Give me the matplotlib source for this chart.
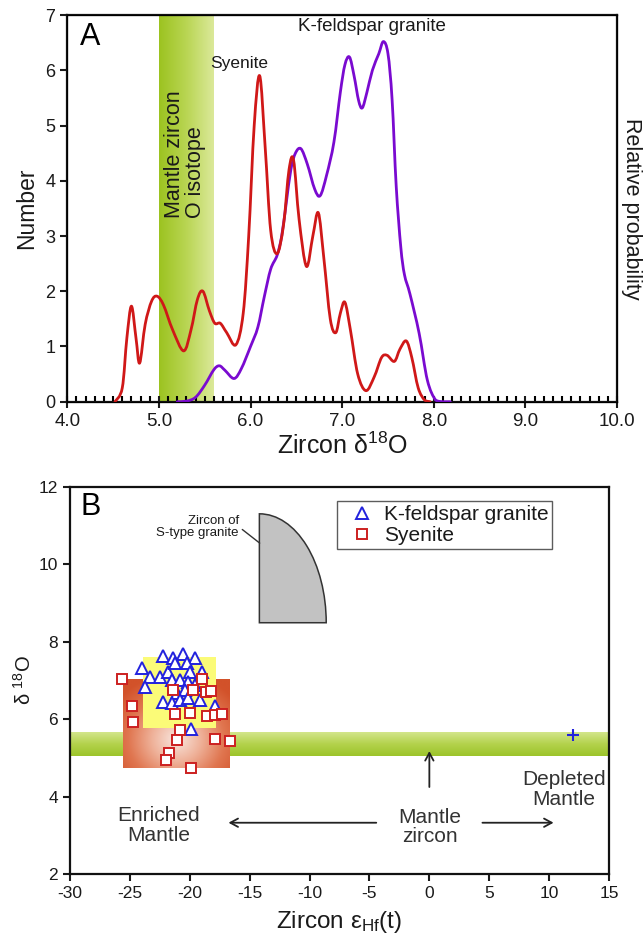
import numpy as np
import matplotlib
matplotlib.use("Agg")
import matplotlib.pyplot as plt
from matplotlib.path import Path
from matplotlib.patches import PathPatch
from matplotlib.transforms import Affine2D
from matplotlib.ticker import MultipleLocator

plt.rcParams["font.family"] = ["Liberation Sans", "DejaVu Sans"]
plt.rcParams["mathtext.fontset"] = "custom"
plt.rcParams["mathtext.rm"] = "Liberation Sans"
plt.rcParams["mathtext.it"] = "Liberation Sans:italic"
plt.rcParams["mathtext.bf"] = "Liberation Sans:bold"
plt.rcParams["axes.unicode_minus"] = False

TXT = "#1a1a1a"

# ---------------- Panel A: relative probability of zircon d18O ----------------
syenite_x = [4.52, 4.60, 4.65, 4.70, 4.75, 4.79, 4.85, 4.92, 4.98, 5.05, 5.15,
             5.27, 5.35, 5.42, 5.48, 5.55, 5.61, 5.67, 5.74, 5.84, 5.92, 5.98,
             6.04, 6.10, 6.16, 6.22, 6.29, 6.36, 6.42, 6.47, 6.53, 6.61, 6.68,
             6.74, 6.80, 6.87, 6.93, 6.98, 7.03, 7.09, 7.17, 7.26, 7.35, 7.43,
             7.49, 7.57, 7.63, 7.70, 7.76, 7.83, 7.90, 7.96]
syenite_y = [0.00, 0.25, 1.15, 1.73, 1.15, 0.70, 1.40, 1.82, 1.91, 1.75, 1.30,
             0.92, 1.30, 1.85, 2.00, 1.65, 1.42, 1.42, 1.25, 1.03, 1.60, 3.00,
             5.00, 5.90, 4.60, 3.10, 2.68, 3.20, 4.20, 4.37, 3.30, 2.45, 3.00,
             3.42, 2.60, 1.50, 1.25, 1.60, 1.80, 1.30, 0.50, 0.20, 0.45, 0.80,
             0.84, 0.73, 0.95, 1.10, 0.80, 0.25, 0.03, 0.00]

kfs_x = [5.20, 5.30, 5.40, 5.50, 5.60, 5.66, 5.72, 5.82, 5.90, 6.00, 6.08,
         6.15, 6.22, 6.29, 6.34, 6.39, 6.44, 6.49, 6.55, 6.62, 6.70, 6.76,
         6.83, 6.91, 6.98, 7.03, 7.08, 7.13, 7.18, 7.22, 7.27, 7.33, 7.40,
         7.45, 7.50, 7.545, 7.59, 7.64, 7.68, 7.74, 7.84, 7.93, 8.02, 8.10, 8.18]
kfs_y = [0.00, 0.01, 0.08, 0.30, 0.58, 0.65, 0.57, 0.42, 0.60, 1.00, 1.35,
         1.90, 2.40, 2.65, 3.00, 3.60, 4.20, 4.50, 4.58, 4.30, 3.85, 3.73,
         4.10, 4.70, 5.60, 6.10, 6.24, 5.90, 5.45, 5.32, 5.60, 6.00, 6.30,
         6.52, 6.30, 5.47, 3.90, 2.80, 2.30, 1.95, 1.24, 0.39, 0.03, 0.00, 0.00]

mantle_o_band = (5.0, 5.6)

# ---------------- Panel B: d18O vs eHf(t) ----------------
kfs_ehf = [-22.21, -21.37, -20.53, -19.56, -23.96, -23.32, -23.73, -22.48,
           -21.79, -21.23, -20.25, -19.97, -19.00, -21.50, -20.81, -20.12,
           -19.56, -21.09, -20.39, -22.21, -21.50, -20.81, -20.12, -17.89,
           -19.14, -19.93]
kfs_d18o = [7.62, 7.57, 7.68, 7.57, 7.32, 7.10, 6.84, 7.10,
            7.23, 7.44, 7.44, 7.23, 7.23, 7.01, 7.01, 6.97,
            6.88, 6.67, 6.76, 6.45, 6.41, 6.50, 6.54, 6.33,
            6.50, 5.74]

syenite_ehf = [-25.68, -24.85, -24.70, -21.37, -19.70, -18.97, -18.68, -18.26,
               -21.23, -19.97, -18.58, -17.89, -17.28, -20.79, -21.09, -17.89,
               -16.66, -21.70, -22.02, -19.89]
syenite_d18o = [7.05, 6.33, 5.93, 6.76, 6.76, 7.03, 6.69, 6.74,
                6.14, 6.16, 6.09, 6.11, 6.14, 5.72, 5.46, 5.50,
                5.44, 5.14, 4.95, 4.73]

depleted_mantle = (12.0, 5.6)
mantle_zircon_band = (5.05, 5.65)
syenite_field = (-25.6, -16.7, 4.74, 7.03)      # x0, x1, y0, y1
kfs_field = (-23.93, -17.83, 5.77, 7.60)
stype_field = (-14.19, -8.61, 8.49, 11.30)


def smooth_path(xs, ys):
    """Smooth Bezier path passing through every (x, y) pair."""
    pts = np.column_stack([xs, ys]).astype(float)
    verts = [pts[0]]
    codes = [Path.MOVETO]
    n = len(pts)
    for i in range(n - 1):
        p0 = pts[i - 1] if i > 0 else pts[i]
        p1 = pts[i]
        p2 = pts[i + 1]
        p3 = pts[i + 2] if i + 2 < n else pts[i + 1]
        c1 = p1 + (p2 - p0) / 6.0
        c2 = p2 - (p3 - p1) / 6.0
        c1[1] = max(c1[1], 0.0)
        c2[1] = max(c2[1], 0.0)
        verts += [c1, c2, p2]
        codes += [Path.CURVE4] * 3
    return Path(verts, codes)


fig = plt.figure(figsize=(6.44, 9.41), dpi=100)

# ---- Panel A ----
axA = fig.add_axes([0.1045, 0.5731, 0.8536, 0.4109])
xlimA, ylimA = (4.0, 10.0), (0.0, 7.0)

band = np.linspace(0, 1, 256).reshape(1, -1)
greens = matplotlib.colors.LinearSegmentedColormap.from_list(
    "band_h", ["#9cc320", "#b9d553", "#dbe99a"])
axA.imshow(band, cmap=greens, aspect="auto", interpolation="bicubic",
           extent=(mantle_o_band[0], mantle_o_band[1], ylimA[0], ylimA[1]),
           zorder=1)
axA.text(5.28, 3.33, "Mantle zircon\nO isotope", rotation=90,
         rotation_mode="anchor", ha="left", va="center",
         multialignment="left", fontsize=15.5, color=TXT, linespacing=1.0,
         zorder=2)

axA.add_patch(PathPatch(smooth_path(syenite_x, syenite_y), fill=False,
                        edgecolor="#d01818", lw=2.0, zorder=4,
                        capstyle="round", joinstyle="round"))
axA.add_patch(PathPatch(smooth_path(kfs_x, kfs_y), fill=False,
                        edgecolor="#7a0ad0", lw=2.0, zorder=3,
                        capstyle="round", joinstyle="round"))

axA.text(5.88, 6.12, "Syenite", ha="center", va="center", fontsize=12.5,
         color=TXT)
axA.text(7.32, 6.8, "K-feldspar granite", ha="center", va="center",
         fontsize=13.5, color=TXT)
axA.text(0.042, 0.942, "A", transform=axA.transAxes, ha="center",
         va="center", fontsize=22, color="black")

axA.set_xlim(*xlimA)
axA.set_ylim(*ylimA)
axA.xaxis.set_major_locator(MultipleLocator(1.0))
axA.xaxis.set_minor_locator(MultipleLocator(0.1))
axA.yaxis.set_major_locator(MultipleLocator(1.0))
axA.set_xticklabels([f"{v:.1f}" for v in axA.get_xticks()])
axA.tick_params(axis="x", which="major", direction="inout", length=8,
                width=1.5, labelsize=13.5, colors=TXT, pad=4)
axA.tick_params(axis="x", which="minor", direction="in", length=4, width=1.5)
axA.tick_params(axis="y", which="major", direction="out", length=5,
                width=1.5, labelsize=13, colors=TXT)
for s in axA.spines.values():
    s.set_linewidth(1.6)
    s.set_color("#111111")
axA.set_xlabel("Zircon δ$^{18}$O", fontsize=18, color=TXT, labelpad=2)
axA.set_ylabel("Number", fontsize=16.5, color=TXT, labelpad=5)
axA2 = axA.twinx()
axA2.set_yticks([])
axA2.set_ylabel("Relative probability", rotation=270, fontsize=15.5,
                color=TXT, labelpad=18)

# ---- Panel B ----
axB = fig.add_axes([0.1087, 0.0709, 0.8370, 0.4119])
xlimB, ylimB = (-30.0, 15.0), (2.0, 12.0)

vband = np.linspace(1, 0, 256).reshape(-1, 1)
greens_v = matplotlib.colors.LinearSegmentedColormap.from_list(
    "band_v", ["#9cc42a", "#b3d24c", "#d3e68c"])
axB.imshow(vband, cmap=greens_v, aspect="auto", interpolation="bicubic",
           extent=(xlimB[0], xlimB[1], mantle_zircon_band[0],
                   mantle_zircon_band[1]), zorder=1)

# radial shading of the syenite field
gx = np.linspace(-1, 1, 200)
gy = np.linspace(-1, 1, 200)
GX, GY = np.meshgrid(gx, gy)
r = np.clip(np.sqrt((GX * 1.0) ** 2 + ((GY - 0.35) * 0.9) ** 2) / 1.35, 0, 1)
orange = matplotlib.colors.LinearSegmentedColormap.from_list(
    "field", ["#f8e6de", "#efb29a", "#e07650", "#d2522a"])
axB.imshow(r, cmap=orange, aspect="auto", interpolation="bicubic",
           extent=(syenite_field[0], syenite_field[1], syenite_field[2],
                   syenite_field[3]), zorder=2)
axB.fill_between([kfs_field[0], kfs_field[1]], kfs_field[2], kfs_field[3],
                 color="#fbfb78", lw=0, zorder=3)

# S-type granite zircon field: vertical edge, base and quarter-ellipse arc
sx0, sx1, sy0, sy1 = stype_field
arc = Path.arc(0, 90)
arc_pts = Affine2D().scale(sx1 - sx0, sy1 - sy0).translate(sx0, sy0) \
    .transform(arc.vertices)
shape_codes = [Path.MOVETO, Path.LINETO] + list(arc.codes[1:]) + \
    [Path.CLOSEPOLY]
shape = Path(np.vstack([[sx0, sy0], arc_pts[::-1], [sx0, sy0]]), shape_codes)
axB.add_patch(PathPatch(shape, facecolor="#c2c2c2", edgecolor="#333333",
                        lw=1.1, zorder=3))
axB.annotate("", xy=(-13.98, 10.50), xytext=(-15.80, 10.94),
             arrowprops=dict(arrowstyle="-", color="#333333", lw=1.0),
             zorder=4)
axB.text(-15.9, 10.95, "Zircon of\nS-type granite", ha="right", va="center",
         multialignment="right", fontsize=9.5, color=TXT, linespacing=1.0)

axB.plot(kfs_ehf, kfs_d18o, linestyle="none", marker="^", ms=9,
         mfc="white", mec="#2222dd", mew=1.4, zorder=5,
         label="K-feldspar granite")
axB.plot(syenite_ehf, syenite_d18o, linestyle="none", marker="s", ms=7,
         mfc="white", mec="#cc2020", mew=1.4, zorder=6, label="Syenite")
axB.plot(*depleted_mantle, linestyle="none", marker="+", ms=8,
         mec="#2222dd", mew=1.5, zorder=6)

arrow_kw = dict(arrowstyle="->,head_length=0.55,head_width=0.3",
                color="#222222", lw=1.3)
axB.annotate("", xy=(0.0, 5.25), xytext=(0.0, 4.18), arrowprops=arrow_kw)
axB.annotate("", xy=(-17.0, 3.33), xytext=(-4.2, 3.33), arrowprops=arrow_kw)
axB.annotate("", xy=(10.6, 3.33), xytext=(4.2, 3.33), arrowprops=arrow_kw)
axB.text(-22.6, 3.25, "Enriched\nMantle", ha="center", va="center",
         fontsize=15, color="#333333", linespacing=1.05)
axB.text(0.05, 3.22, "Mantle\nzircon", ha="center", va="center",
         fontsize=15, color="#333333", linespacing=1.05)
axB.text(11.25, 4.19, "Depleted\nMantle", ha="center", va="center",
         fontsize=15, color="#333333", linespacing=1.05)
axB.text(0.038, 0.948, "B", transform=axB.transAxes, ha="center",
         va="center", fontsize=22, color="black")

leg = axB.legend(loc="upper left", bbox_to_anchor=(0.495, 0.963),
                 fontsize=15, frameon=True, fancybox=False, borderpad=0.2,
                 labelspacing=0.1, handletextpad=0.05, handlelength=2.0,
                 borderaxespad=0)
leg.get_frame().set_edgecolor("#333333")
leg.get_frame().set_linewidth(1.0)
for t in leg.get_texts():
    t.set_color(TXT)

axB.set_xlim(*xlimB)
axB.set_ylim(*ylimB)
axB.xaxis.set_major_locator(MultipleLocator(5))
axB.yaxis.set_major_locator(MultipleLocator(2))
axB.tick_params(axis="both", which="major", direction="out", length=5,
                width=1.5, labelsize=12.5, colors=TXT)
for s in axB.spines.values():
    s.set_linewidth(1.6)
    s.set_color("#111111")
axB.set_xlabel("Zircon ε$_{\\mathrm{Hf}}$(t)", fontsize=17.5, color=TXT,
               labelpad=6)
axB.set_ylabel("δ $^{18}$O", fontsize=14.5, color=TXT, labelpad=3)

fig.savefig("out.png", dpi=100)
